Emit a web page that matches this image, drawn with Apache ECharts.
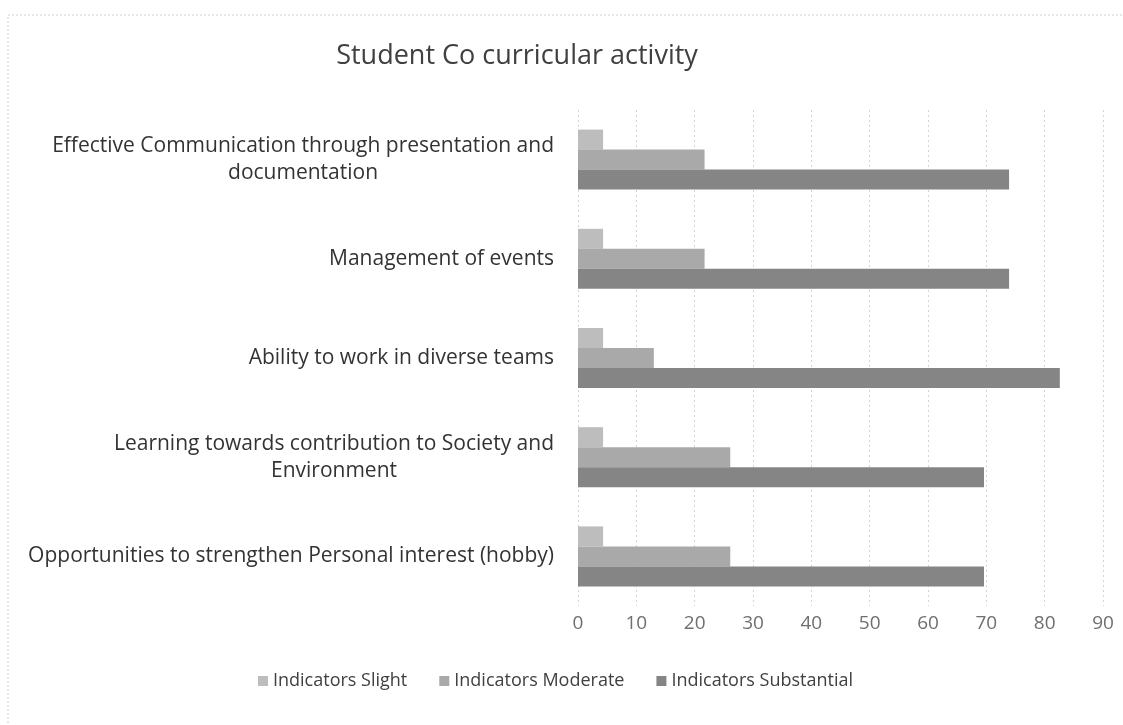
<!DOCTYPE html>
<html>
<head>
<meta charset="utf-8">
<script src="https://cdn.jsdelivr.net/npm/echarts@6/dist/echarts.min.js"></script>
<style>
  html, body { margin: 0; padding: 0; background: #fff; }
  #chart { width: 1123px; height: 725px; }
</style>
</head>
<body>
<div id="chart"></div>
<script>
const categories = [
  "Effective Communication through presentation and\ndocumentation",
  "Management of events",
  "Ability to work in diverse teams",
  "Learning towards contribution to Society and\nEnvironment",
  "Opportunities to strengthen Personal interest (hobby)"
];
const slight = [4.3, 4.3, 4.3, 4.3, 4.3];
const moderate = [21.7, 21.7, 13.0, 26.1, 26.1];
const substantial = [73.9, 73.9, 82.6, 69.6, 69.6];
const seriesNames = ["Indicators Slight", "Indicators Moderate", "Indicators Substantial"];

const font = "'Open Sans', Lato, sans-serif";
const chart = echarts.init(document.getElementById("chart"));

function makeBar(name, data, color) {
  return {
    name,
    type: "bar",
    data,
    barWidth: 20,
    barGap: "0%",
    barCategoryGap: "40%",
    itemStyle: { color },
  };
}

chart.setOption({
  animation: false,
  backgroundColor: "#fff",
  textStyle: { fontFamily: font },
  title: {
    text: "Student Co curricular activity",
    left: 512,
    textAlign: "center",
    top: 38,
    textStyle: { fontSize: 27, fontWeight: "normal", color: "#404040", fontFamily: font },
  },
  graphic: [
    {
      type: "rect",
      shape: { x: 8, y: 15, width: 1200, height: 800 },
      style: { fill: "none", stroke: "#cfcfcf", lineWidth: 1, lineDash: [2, 2] },
      silent: true,
    },
  ],
  legend: {
    data: seriesNames,
    bottom: 30,
    left: 253,
    itemWidth: 10,
    itemHeight: 10,
    itemGap: 32,
    icon: "rect",
    textStyle: { fontSize: 18, color: "#404040", fontFamily: font },
  },
  grid: { left: 578, right: 20, top: 110, bottom: 119 },
  xAxis: {
    type: "value",
    min: 0,
    max: 90,
    interval: 10,
    axisLine: { show: false },
    axisTick: { show: false },
    axisLabel: { color: "#6f6f6f", fontSize: 19, margin: 8, fontFamily: font },
    splitLine: { lineStyle: { color: "#d4d4d4", type: [2, 3] } },
  },
  yAxis: {
    type: "category",
    data: categories,
    inverse: true,
    axisLine: { show: false },
    axisTick: { show: false },
    axisLabel: {
      margin: 24,
      fontSize: 21,
      lineHeight: 27,
      color: "#333333",
      fontFamily: font,
      formatter: (v) => v.split("\n").map((s) => "{c|" + s + "}").join("\n"),
      rich: { c: { align: "center", fontSize: 21, lineHeight: 27, color: "#333333", fontFamily: font } },
    },
  },
  series: [
    makeBar(seriesNames[0], slight, "#bdbdbd"),
    makeBar(seriesNames[1], moderate, "#a9a9a9"),
    makeBar(seriesNames[2], substantial, "#858585"),
  ],
});
</script>
</body>
</html>
